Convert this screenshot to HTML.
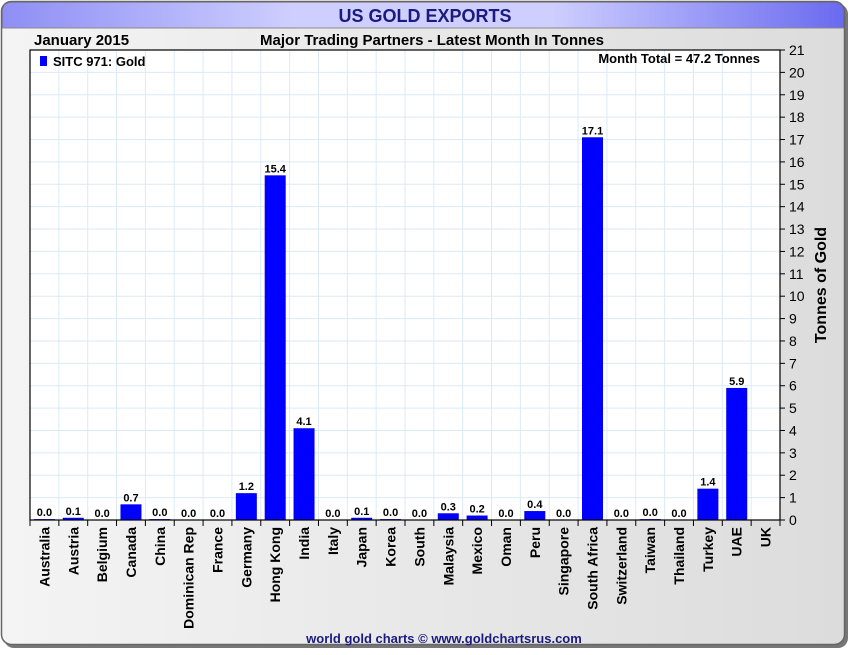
<!DOCTYPE html>
<html><head><meta charset="utf-8"><style>
body{margin:0;width:850px;height:650px;background:#fff;overflow:hidden;font-family:"Liberation Sans",sans-serif}
</style></head><body>
<svg width="850" height="650" xmlns="http://www.w3.org/2000/svg">
<defs>
<linearGradient id="tb" x1="0" x2="1"><stop offset="0" stop-color="#8e8ef5"/><stop offset="0.35" stop-color="#cfcfff"/><stop offset="0.65" stop-color="#cfcfff"/><stop offset="1" stop-color="#6a6af0"/></linearGradient>
<linearGradient id="bg" x1="0" x2="1"><stop offset="0" stop-color="#f4f4f4"/><stop offset="1" stop-color="#dcdcdc"/></linearGradient>
</defs>
<rect x="4" y="4" width="844" height="644" rx="10" fill="#777"/>
<rect x="1.5" y="1.5" width="843" height="643" rx="10" fill="url(#bg)" stroke="#666" stroke-width="1.5"/>
<path d="M2,28 L2,12 Q2,2 12,2 L834,2 Q844,2 844,12 L844,28 Z" fill="url(#tb)" stroke="#666"/>
<line x1="2" y1="28" x2="844" y2="28" stroke="#888"/>
<text x="425" y="22" text-anchor="middle" font-size="18" font-weight="bold" fill="#1a1a80" font-family="Liberation Sans Narrow, Liberation Sans, sans-serif">US GOLD EXPORTS</text>
<text x="34" y="45" font-size="15" font-weight="bold" fill="#000" font-family="Liberation Sans Narrow, Liberation Sans, sans-serif">January 2015</text>
<text x="432" y="45" text-anchor="middle" font-size="15" font-weight="bold" fill="#000" font-family="Liberation Sans Narrow, Liberation Sans, sans-serif">Major Trading Partners - Latest Month In Tonnes</text>
<rect x="30" y="50" width="750" height="470" fill="#fff"/>
<g id="grid"></g>
<g id="bars"></g>
<rect x="30" y="50" width="750" height="470" fill="none" stroke="#000" stroke-width="1.2"/>
<rect x="40" y="56" width="7" height="10" fill="#0000ff"/>
<text x="53" y="66" font-size="13" font-weight="bold" fill="#000" font-family="Liberation Sans Narrow, Liberation Sans, sans-serif">SITC 971: Gold</text>
<text x="760" y="63" text-anchor="end" font-size="13" font-weight="bold" fill="#000" font-family="Liberation Sans Narrow, Liberation Sans, sans-serif">Month Total = 47.2 Tonnes</text>
<g id="yaxis"></g>
<g id="xaxis"></g>
<text transform="translate(826,285) rotate(-90)" text-anchor="middle" font-size="16" font-weight="bold" fill="#000">Tonnes of Gold</text>
<text x="444" y="643" text-anchor="middle" font-size="13" font-weight="bold" fill="#1a1a80">world gold charts © www.goldchartsrus.com</text>
</svg>
<script>
const categories=["Australia","Austria","Belgium","Canada","China","Dominican Rep","France","Germany","Hong Kong","India","Italy","Japan","Korea","South","Malaysia","Mexico","Oman","Peru","Singapore","South Africa","Switzerland","Taiwan","Thailand","Turkey","UAE","UK"];
const values=[0.04,0.1,0.0,0.7,0.04,0.0,0.0,1.2,15.4,4.1,0.0,0.1,0.04,0.0,0.3,0.2,0.0,0.4,0.0,17.1,0.0,0.04,0.0,1.4,5.9,null];
const yTicks=[0,1,2,3,4,5,6,7,8,9,10,11,12,13,14,15,16,17,18,19,20,21];
const NS="http://www.w3.org/2000/svg";
const X0=30,X1=780,Y0=520,Y1=50,YMAX=21;
const n=categories.length,bw=(X1-X0)/n;
const y=v=>Y0-(v/YMAX)*(Y0-Y1);
const xc=i=>X0+bw*(i+0.5);
function mk(t,a,p){const e=document.createElementNS(NS,t);for(const k in a)e.setAttribute(k,a[k]);p.appendChild(e);return e;}
const grid=document.getElementById('grid'),bars=document.getElementById('bars'),ya=document.getElementById('yaxis'),xa=document.getElementById('xaxis');
yTicks.forEach(t=>{
 const l=mk('line',{x1:X0,x2:X1,y1:y(t),y2:y(t),stroke:'#dceaf6'},grid);
 
 
 mk('line',{x1:X1,x2:X1+5,y1:y(t),y2:y(t),stroke:'#000'},ya);
 const tx=mk('text',{x:X1+9,y:y(t)+5,'font-size':14,fill:'#000'},ya);
 tx.textContent=t;
 
 
});
for(let i=0;i<=n;i++){
 const x=X0+bw*i;
 const l=mk('line',{x1:x,x2:x,y1:Y1,y2:Y0,stroke:'#dceaf6'},grid);
 
 
 mk('line',{x1:x,x2:x,y1:Y0,y2:Y0+6,stroke:'#000'},xa);
}
categories.forEach((c,i)=>{
 const t=mk('text',{transform:`translate(${xc(i)+5},${Y0+7}) rotate(-90)`,'text-anchor':'end','font-size':14,'font-weight':'bold',fill:'#000'},xa);
 t.textContent=c;
 
 
 const v=values[i];
 if(v===null)return;
 const r=mk('rect',{x:xc(i)-10.5,y:y(v),width:21,height:Y0-y(v),fill:'#0000ff'},bars);
 
 
 const lb=mk('text',{x:xc(i),y:y(v)-3,'text-anchor':'middle','font-size':11,'font-weight':'bold',fill:'#000'},bars);
 lb.textContent=v.toFixed(1);
 
 
});
</script>
</body></html>
